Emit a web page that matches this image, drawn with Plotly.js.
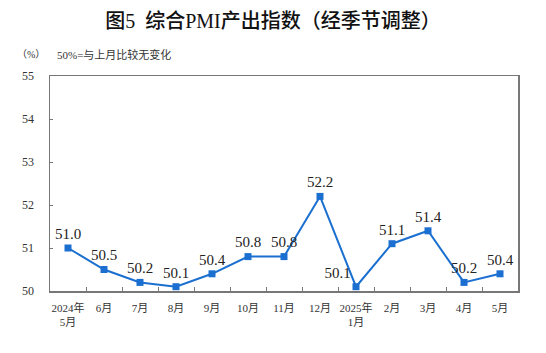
<!DOCTYPE html>
<html><head><meta charset="utf-8">
<script src="https://cdn.plot.ly/plotly-3.0.1.min.js"></script>
<style>html,body{margin:0;padding:0;background:#fff}</style>
</head><body>
<div id="chart" style="width:546px;height:353px"></div>
<script>
const months = ["2024年<br>5月","6月","7月","8月","9月","10月","11月","12月","2025年<br>1月","2月","3月","4月","5月"];
const values = [51.0,50.5,50.2,50.1,50.4,50.8,50.8,52.2,50.1,51.1,51.4,50.2,50.4];
const labels = ["51.0","50.5","50.2","50.1","50.4","50.8","50.8","52.2","50.1","51.1","51.4","50.2","50.4"];
const labelPos = ["top center","top center","top center","top center","top center","top center","top center","top center","top left","top center","top center","top center","top center"];
const yTicks = [50,51,52,53,54,55];

const serif = "Liberation Serif, Noto Sans CJK SC, serif";
const trace = {
  x: months, y: values, type: "scatter", mode: "lines+markers+text",
  line: {color: "#1a6fd0", width: 2},
  marker: {symbol: "square", size: 7, color: "#1a6fd0"},
  text: labels, textposition: labelPos,
  textfont: {family: serif, size: 15, color: "#222"},
  cliponaxis: false, hoverinfo: "none"
};
const layout = {
  width: 546, height: 353,
  margin: {l: 50, r: 28, t: 76, b: 62},
  paper_bgcolor: "#fff", plot_bgcolor: "#fff",
  showlegend: false,
  title: {text: "图5  综合PMI产出指数（经季节调整）", x: 0.5, xanchor: "center", y: 0.94, yanchor: "middle",
    font: {family: "Liberation Serif, Noto Sans CJK SC, serif", size: 20, color: "#111", weight: 500}},
  xaxis: {type: "category", range: [-0.5, 12.5], showgrid: false, zeroline: false,
    showline: true, linecolor: "#777", linewidth: 1.5, mirror: true,
    ticks: "inside", tickson: "boundaries", ticklen: 4, tickcolor: "#777", tickangle: 0,
    tickfont: {family: serif, size: 11, color: "#333"}, ticklabelstandoff: 6},
  yaxis: {range: [50, 55], tickvals: yTicks, showgrid: false, zeroline: false,
    showline: true, linecolor: "#777", linewidth: 1.5, mirror: true,
    ticks: "inside", ticklen: 3, tickcolor: "#777",
    tickfont: {family: serif, size: 12, color: "#333"}, ticklabelstandoff: 12},
  annotations: [
    {text: "（%）", xref: "paper", yref: "paper", x: -0.075, y: 1.1, xanchor: "left", yanchor: "middle", showarrow: false,
     font: {family: serif, size: 10, color: "#333"}},
    {text: "50%=与上月比较无变化", xref: "paper", yref: "paper", x: 0.01, y: 1.1, xanchor: "left", yanchor: "middle", showarrow: false,
     font: {family: serif, size: 11, color: "#333"}}
  ]
};
Plotly.newPlot("chart", [trace], layout, {staticPlot: true, displayModeBar: false});
</script>
</body></html>
